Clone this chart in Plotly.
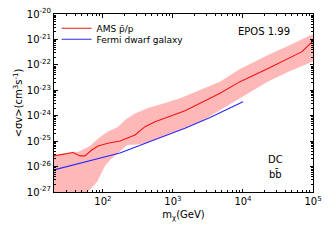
import plotly.graph_objects as go

# ---- data ----
ams_mass = [20, 30.7, 37.3, 47, 55.4, 69.2, 85.1, 118, 175, 287, 399, 555, 851,
            1486, 2437, 4700, 9070, 22800, 69800, 100000]
ams_sigma = [2.63e-26, 3.24e-26, 3.55e-26, 2.63e-26, 2.63e-26, 4.47e-26, 6.46e-26,
             8.3e-26, 1.02e-25, 1.74e-25, 3.72e-25, 5.75e-25, 9.1e-25, 1.58e-24,
             3.09e-24, 7.6e-24, 2.19e-23, 7.2e-23, 3.3e-22, 8.7e-22]

band_up_mass = [20, 37.3, 44, 65.3, 90.8, 118, 164, 207, 287, 441, 771, 1262,
                2437, 4700, 9070, 22800, 47100, 100000]
band_up_sigma = [2.8e-26, 3.8e-26, 3.7e-26, 6.5e-26, 1.45e-25, 2.4e-25, 3.6e-25,
                 6.8e-25, 1.23e-24, 2.0e-24, 3.16e-24, 4.9e-24, 1.03e-23, 2.19e-23,
                 6.9e-23, 2.45e-22, 6.0e-22, 1.63e-21]

band_lo_mass = [20, 47, 82.2, 107, 126, 159, 221, 307, 426, 908, 2437, 4700, 9700,
                22800, 47100, 100000]
band_lo_sigma = [1e-28, 4.9e-28, 2.46e-27, 1.05e-26, 1.82e-26, 3.1e-26, 7.1e-26,
                 7.4e-26, 8.5e-26, 1.9e-25, 5.6e-25, 1.66e-24, 5.5e-24, 2.2e-23,
                 5.7e-23, 1.35e-22]

fermi_mass = [20, 59.2, 175, 470, 1486, 3390, 10000]
fermi_sigma = [7.4e-27, 1.58e-26, 3.4e-26, 9.7e-26, 3.2e-25, 8.5e-25, 3.55e-24]

x_tick_vals = [1e2, 1e3, 1e4, 1e5]
x_tick_text = ["10<sup>2</sup>", "10<sup>3</sup>", "10<sup>4</sup>", "10<sup>5</sup>"]
y_tick_vals = [1e-27, 1e-26, 1e-25, 1e-24, 1e-23, 1e-22, 1e-21, 1e-20]
y_tick_text = ["10<sup>-27</sup>", "10<sup>-26</sup>", "10<sup>-25</sup>", "10<sup>-24</sup>",
               "10<sup>-23</sup>", "10<sup>-22</sup>", "10<sup>-21</sup>", "10<sup>-20</sup>"]

FONT = "DejaVu Sans"

fig = go.Figure()

# uncertainty band (polygon: upper edge then lower edge reversed)
fig.add_trace(go.Scatter(
    x=band_up_mass + band_lo_mass[::-1],
    y=band_up_sigma + band_lo_sigma[::-1],
    fill="toself", fillcolor="rgba(255,160,160,0.75)",
    line=dict(width=0), mode="lines", hoverinfo="skip", showlegend=False))

fig.add_trace(go.Scatter(
    x=ams_mass, y=ams_sigma, mode="lines",
    line=dict(color="rgb(245,20,20)", width=1.1),
    name="AMS p\u0304/p", legend="legend"))

fig.add_trace(go.Scatter(
    x=fermi_mass, y=fermi_sigma, mode="lines",
    line=dict(color="rgb(40,40,255)", width=1.1),
    name="Fermi dwarf galaxy", legend="legend2"))

axis_common = dict(
    automargin=False,
    showline=True, linecolor="black", linewidth=1, mirror="allticks",
    ticks="inside", ticklen=3.5, tickcolor="black", tickwidth=1,
    showgrid=False, zeroline=False,
    tickfont=dict(family=FONT, size=10, color="black"),
    minor=dict(ticks="inside", ticklen=2, tickcolor="black", dtick="D1", showgrid=False),
)

fig.update_xaxes(type="log", range=[1.30103, 5],
                 tickvals=x_tick_vals, ticktext=x_tick_text,
                 title=dict(text="m<sub>χ</sub>(GeV)", font=dict(family=FONT, size=10, color="black"),
                            standoff=4),
                 **axis_common)
fig.update_yaxes(type="log", range=[-27, -20],
                 tickvals=y_tick_vals, ticktext=y_tick_text,
                 title=dict(text="&lt;σv&gt;(cm<sup>3</sup>s<sup>-1</sup>)",
                            font=dict(family=FONT, size=10, color="black"), standoff=2),
                 **axis_common)

legend_common = dict(bgcolor="rgba(0,0,0,0)", borderwidth=0,
                     font=dict(family=FONT, size=9, color="black"),
                     itemwidth=30, xanchor="left", yanchor="middle", tracegroupgap=0)

ann_font = dict(family=FONT, size=10, color="black")
fig.update_layout(
    template="none",
    width=332, height=242,
    margin=dict(l=54, r=19, t=14, b=50),
    paper_bgcolor="white", plot_bgcolor="white",
    legend=dict(x=0.01, y=0.92, **legend_common),
    legend2=dict(x=0.01, y=0.858, **legend_common),
    annotations=[
        dict(text="EPOS 1.99", xref="paper", yref="paper", x=0.811, y=0.904,
             xanchor="center", yanchor="middle", showarrow=False, font=ann_font),
        dict(text="DC", xref="paper", yref="paper", x=0.857, y=0.185,
             xanchor="center", yanchor="middle", showarrow=False, font=ann_font),
        dict(text="bb\u0304", xref="paper", yref="paper", x=0.857, y=0.101,
             xanchor="center", yanchor="middle", showarrow=False, font=ann_font),
    ],
)

fig.write_html("out.html",
               config={"displayModeBar": False},
               post_script="document.body.style.margin='0';document.body.style.overflow='hidden';")
